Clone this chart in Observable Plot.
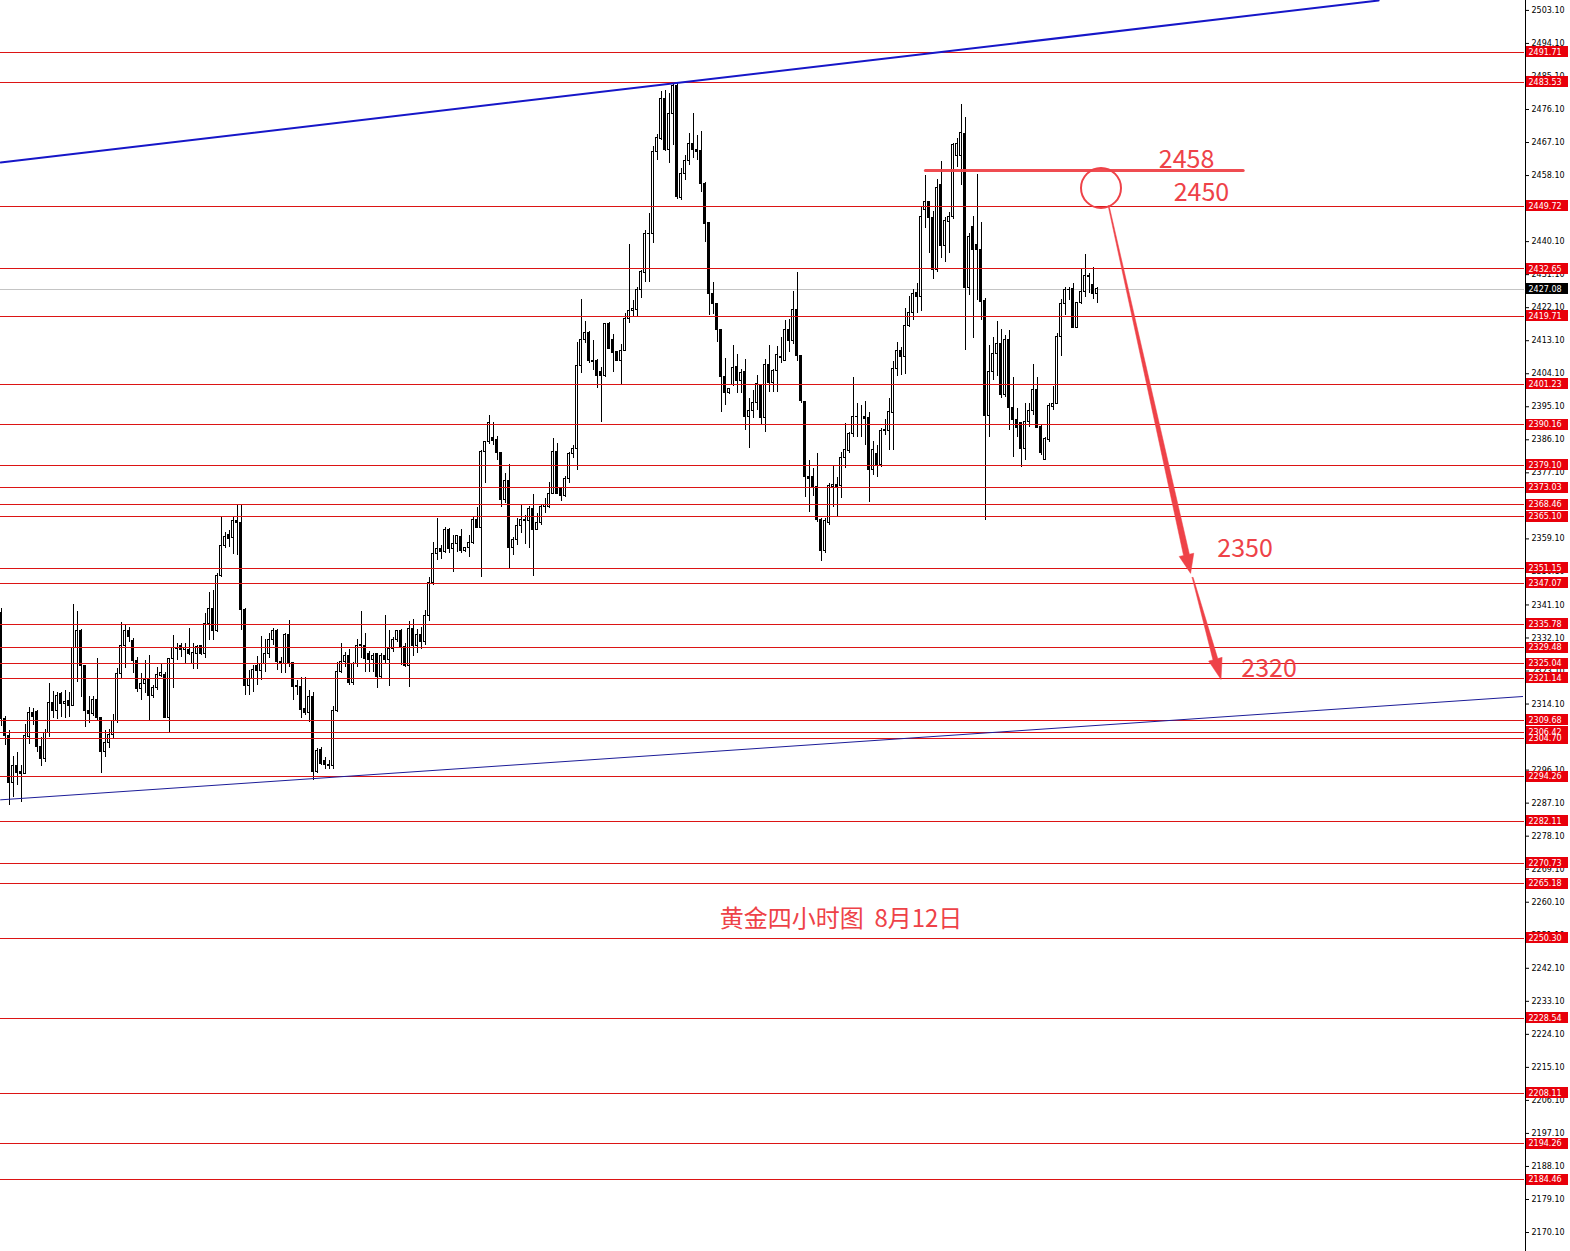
<!DOCTYPE html>
<html>
<head>
<meta charset="utf-8">
<script src="https://cdn.jsdelivr.net/npm/d3@7"></script>
<script src="https://cdn.jsdelivr.net/npm/@observablehq/plot@0.6"></script>
<style>
  html, body { margin: 0; padding: 0; background: #ffffff; }
  #chart svg { display: block; }
</style>
</head>
<body>
<div id="chart"></div>
<script>
// ---------- data (gold, 4-hour candles) ----------
const opens = [2339.0,2310.0,2305.5,2292.5,2297.3,2295.5,2295.0,2305.0,2311.7,2312.0,2302.3,2299.2,2306.2,2314.4,2312.3,2316.9,2314.0,2314.8,2313.7,2329.4,
2334.1,2324.6,2312.3,2311.3,2315.1,2310.3,2301.0,2303.5,2305.7,2309.6,2322.3,2330.0,2333.9,2331.4,2325.8,2318.1,2319.6,2320.7,2316.2,2318.5,
2321.8,2321.9,2310.3,2326.4,2329.4,2330.0,2328.9,2328.8,2325.0,2327.8,2329.8,2327.8,2335.9,2340.0,2334.1,2349.1,2357.1,2360.2,2359.4,2364.1,
2363.5,2339.8,2319.1,2321.0,2324.6,2323.2,2325.0,2327.6,2331.6,2334.1,2325.5,2325.0,2332.8,2325.2,2319.1,2318.7,2312.8,2311.6,2316.1,2295.5,
2301.6,2298.5,2297.6,2297.1,2312.3,2322.8,2325.5,2327.3,2319.8,2325.0,2330.0,2330.0,2327.8,2326.1,2327.6,2321.4,2327.3,2326.1,2329.1,2331.6,
2334.1,2329.6,2324.6,2334.6,2330.0,2333.0,2331.0,2338.0,2347.2,2355.0,2356.4,2355.5,2361.6,2356.4,2357.6,2359.6,2355.9,2356.5,2357.9,2364.3,
2362.1,2382.7,2385.5,2386.6,2386.1,2382.4,2369.6,2374.8,2356.7,2358.8,2362.7,2364.3,2364.1,2367.3,2361.6,2363.4,2367.7,2367.7,2371.4,2382.7,
2372.7,2370.9,2375.5,2382.1,2383.6,2406.3,2413.3,2415.2,2407.5,2407.7,2404.5,2403.4,2417.7,2413.2,2410.0,2407.5,2410.4,2419.1,2421.1,2421.6,
2427.0,2431.6,2442.2,2442.2,2464.5,2468.1,2479.0,2465.1,2474.9,2482.6,2452.0,2458.4,2462.2,2466.7,2465.1,2464.7,2455.8,2445.1,2425.9,2423.0,
2415.9,2403.3,2398.8,2400.9,2405.9,2402.1,2404.5,2392.3,2393.9,2396.1,2400.9,2392.1,2406.6,2401.5,2404.8,2408.4,2407.5,2415.9,2413.0,2421.5,
2408.8,2396.4,2376.1,2375.9,2373.2,2364.3,2355.7,2363.4,2373.2,2373.9,2373.4,2381.2,2383.0,2387.7,2392.4,2392.3,2392.4,2392.1,2377.9,2382.3,
2379.1,2388.7,2388.6,2393.4,2405.4,2410.2,2408.6,2417.2,2420.6,2426.0,2425.1,2448.8,2450.8,2446.6,2432.4,2455.4,2439.0,2445.4,2446.8,2463.3,
2463.3,2469.5,2427.5,2444.0,2439.3,2437.7,2423.8,2392.7,2404.5,2409.5,2412.1,2398.2,2413.2,2394.8,2391.5,2390.6,2383.6,2390.9,2393.9,2399.7,
2389.5,2380.6,2386.1,2395.0,2395.9,2414.1,2423.1,2426.8,2427.2,2416.6,2423.3,2426.3,2430.6,2428.4,2425.7];
const highs = [2340.0,2310.8,2306.9,2299.9,2301.0,2297.3,2308.5,2313.2,2312.8,2312.3,2305.1,2307.1,2319.8,2317.5,2317.3,2317.3,2317.8,2317.3,2341.1,2339.4,
2334.3,2324.6,2316.1,2316.1,2326.4,2310.5,2306.9,2307.1,2311.2,2323.7,2336.4,2335.5,2335.0,2332.0,2326.9,2322.3,2326.0,2327.3,2319.2,2324.1,
2325.0,2322.8,2326.4,2332.8,2330.5,2330.5,2330.5,2334.6,2330.5,2330.0,2330.0,2338.7,2344.6,2345.0,2349.6,2365.2,2360.9,2361.4,2365.2,2368.2,
2368.5,2340.0,2323.2,2324.6,2327.0,2332.5,2331.6,2333.2,2334.6,2334.3,2326.9,2333.2,2336.9,2325.5,2320.5,2321.4,2321.4,2317.8,2317.3,2301.9,
2302.3,2299.6,2298.7,2313.4,2325.5,2330.5,2328.2,2328.9,2325.5,2331.6,2339.4,2333.4,2328.5,2328.0,2327.8,2327.8,2338.2,2334.1,2332.1,2334.1,
2334.3,2330.5,2336.7,2337.0,2334.5,2335.0,2339.5,2348.5,2358.2,2364.6,2357.3,2362.1,2361.9,2360.0,2360.0,2361.6,2356.8,2360.0,2364.8,2367.6,
2383.2,2385.7,2392.7,2390.9,2387.0,2382.7,2377.0,2379.4,2359.5,2364.6,2368.2,2365.5,2367.9,2371.2,2366.1,2368.6,2370.0,2374.5,2386.4,2385.0,
2373.2,2376.1,2382.7,2384.5,2412.7,2424.2,2418.2,2415.5,2413.2,2408.1,2405.9,2417.9,2418.0,2414.8,2410.0,2412.2,2420.4,2439.3,2424.0,2427.7,
2432.2,2443.1,2447.7,2466.0,2469.3,2481.1,2481.3,2480.4,2483.5,2483.3,2459.9,2463.6,2469.6,2474.9,2469.0,2470.2,2456.3,2445.4,2429.0,2423.1,
2416.1,2408.2,2400.2,2411.8,2409.3,2405.2,2407.9,2397.3,2399.5,2403.6,2401.2,2407.9,2411.8,2405.2,2411.5,2414.1,2418.6,2418.8,2426.6,2431.8,
2409.1,2396.6,2380.5,2378.4,2382.3,2364.6,2364.6,2374.1,2379.1,2375.9,2382.7,2390.6,2388.2,2403.0,2395.9,2395.4,2396.6,2393.6,2385.7,2384.5,
2389.3,2391.5,2397.3,2407.3,2412.7,2411.3,2421.8,2425.1,2427.0,2428.6,2449.7,2458.1,2451.1,2448.4,2456.9,2462.0,2446.8,2448.1,2466.9,2468.1,
2477.5,2474.0,2442.2,2446.9,2458.4,2445.4,2424.5,2411.8,2414.1,2418.2,2416.1,2414.6,2416.0,2403.2,2394.5,2390.9,2395.9,2395.9,2406.6,2403.2,
2390.0,2386.8,2395.9,2400.6,2415.2,2424.2,2427.5,2427.5,2428.6,2423.6,2432.7,2436.6,2431.3,2433.0,2427.5];
const lows = [2308.0,2302.8,2286.5,2288.7,2291.9,2287.4,2295.0,2303.2,2308.3,2301.0,2297.1,2298.3,2305.1,2310.1,2309.8,2310.5,2310.1,2310.5,2313.4,2320.1,
2316.0,2307.8,2308.7,2310.7,2309.6,2295.2,2299.6,2301.9,2304.6,2308.7,2320.7,2323.7,2331.0,2322.3,2317.3,2315.1,2316.9,2309.6,2315.5,2317.9,
2321.4,2310.1,2306.4,2318.2,2326.0,2326.9,2325.0,2327.3,2323.4,2323.4,2327.3,2326.6,2331.4,2331.4,2333.7,2348.7,2356.4,2356.8,2354.8,2354.6,
2334.1,2316.4,2316.4,2317.3,2319.1,2320.5,2322.8,2326.4,2330.1,2323.2,2322.3,2322.3,2324.1,2315.2,2316.4,2310.1,2311.0,2309.2,2293.3,2295.1,
2297.4,2296.4,2296.4,2296.2,2311.9,2322.3,2324.1,2319.1,2319.1,2324.1,2326.4,2322.8,2322.8,2322.8,2318.2,2320.9,2325.0,2318.9,2328.2,2331.0,
2324.6,2324.0,2318.7,2327.0,2328.0,2329.0,2330.0,2336.5,2346.5,2353.2,2353.4,2355.0,2355.0,2350.0,2355.5,2355.0,2355.5,2353.9,2357.7,2361.8,
2348.7,2374.1,2384.8,2384.5,2380.5,2367.7,2368.8,2350.7,2354.6,2357.3,2360.5,2357.7,2356.4,2348.9,2361.4,2362.8,2366.0,2367.3,2371.2,2371.2,
2369.4,2370.4,2374.1,2381.0,2377.7,2404.1,2412.4,2407.0,2405.0,2400.0,2390.9,2403.2,2410.7,2404.5,2407.3,2401.2,2410.2,2417.7,2419.3,2419.3,
2424.5,2429.0,2429.0,2439.7,2462.2,2467.7,2464.7,2461.3,2466.3,2451.5,2451.3,2456.8,2460.8,2462.7,2462.2,2453.6,2439.9,2420.0,2420.2,2412.7,
2393.6,2395.4,2398.4,2400.6,2398.6,2398.6,2388.6,2383.6,2391.8,2394.1,2390.0,2388.2,2399.1,2399.1,2399.1,2407.0,2407.3,2410.0,2412.2,2407.5,
2396.1,2370.5,2366.4,2370.6,2363.7,2353.0,2355.2,2362.7,2367.7,2365.0,2370.0,2378.2,2382.3,2386.8,2386.8,2386.8,2384.5,2369.1,2376.4,2375.9,
2378.6,2387.3,2383.2,2383.2,2403.3,2403.6,2403.9,2416.6,2418.6,2420.6,2421.1,2443.8,2436.9,2429.9,2431.8,2435.4,2434.5,2436.8,2446.0,2460.2,
2455.4,2410.3,2425.4,2413.6,2424.0,2418.6,2364.1,2386.8,2402.3,2403.4,2397.3,2397.5,2388.6,2381.4,2386.8,2378.6,2380.5,2389.5,2392.7,2389.1,
2381.8,2380.4,2385.5,2394.1,2395.7,2408.8,2420.0,2424.0,2416.3,2416.3,2423.0,2425.0,2425.9,2424.2,2423.3];
const closes = [2310.0,2305.5,2292.5,2297.3,2295.3,2295.0,2305.3,2311.7,2310.5,2302.3,2299.2,2306.2,2314.4,2312.3,2316.4,2314.0,2314.6,2313.7,2329.4,2334.1,
2324.6,2312.3,2311.3,2315.1,2310.3,2301.0,2303.5,2305.7,2309.6,2322.3,2330.0,2333.9,2332.3,2325.8,2318.1,2319.6,2320.7,2316.2,2318.5,2322.1,
2322.5,2310.3,2326.4,2329.4,2329.2,2328.9,2329.4,2327.8,2327.9,2329.6,2327.8,2335.9,2340.0,2334.1,2349.1,2357.1,2359.7,2359.1,2364.1,2363.5,
2339.8,2319.1,2321.0,2323.4,2323.2,2325.0,2327.6,2331.6,2334.1,2325.5,2325.0,2332.8,2325.0,2318.7,2318.7,2312.5,2311.6,2316.1,2295.5,2301.4,
2297.8,2297.4,2297.1,2312.3,2322.8,2325.5,2327.1,2319.8,2325.0,2329.8,2330.1,2326.4,2326.1,2327.3,2321.4,2327.3,2326.1,2329.1,2331.6,2334.0,
2329.6,2324.6,2334.6,2330.0,2333.0,2331.0,2338.0,2347.2,2355.0,2356.4,2355.5,2361.6,2356.4,2357.6,2359.8,2355.9,2356.5,2357.9,2364.3,2362.1,
2382.7,2385.5,2390.6,2385.9,2382.4,2369.6,2374.8,2356.7,2358.8,2362.7,2364.3,2364.1,2367.3,2361.6,2363.4,2367.7,2368.4,2371.4,2382.7,2371.2,
2370.9,2375.5,2382.3,2383.6,2406.3,2413.3,2415.2,2407.5,2407.2,2403.4,2403.4,2417.7,2410.9,2409.7,2407.5,2410.4,2419.1,2421.1,2421.8,2427.0,
2431.8,2442.2,2442.3,2464.5,2468.4,2479.0,2465.1,2474.9,2482.6,2452.2,2458.4,2462.2,2466.7,2465.1,2464.5,2455.8,2444.8,2425.9,2423.0,2415.9,
2403.3,2398.8,2400.0,2405.7,2402.1,2404.3,2392.3,2393.9,2396.1,2401.2,2392.1,2406.6,2401.5,2404.8,2409.3,2408.6,2415.9,2413.0,2421.5,2408.8,
2396.6,2375.9,2375.5,2373.2,2364.3,2355.7,2364.1,2373.4,2373.9,2373.2,2381.2,2383.2,2387.7,2392.4,2392.2,2392.3,2391.8,2377.9,2383.2,2379.1,
2388.6,2388.4,2393.6,2405.4,2410.2,2408.6,2417.2,2420.6,2425.9,2425.1,2446.9,2450.8,2446.6,2432.4,2454.8,2439.0,2445.8,2446.9,2466.3,2466.6,
2469.6,2427.5,2441.3,2437.7,2437.7,2423.6,2392.7,2404.5,2409.5,2412.1,2398.2,2413.2,2394.8,2391.5,2389.4,2383.6,2390.9,2393.9,2399.7,2389.4,
2382.5,2386.4,2395.2,2395.9,2414.1,2423.1,2426.8,2427.0,2416.6,2423.3,2426.3,2430.6,2430.5,2425.7,2427.08];

// horizontal support / resistance levels
const levels = [2491.71,2483.53,2449.72,2432.65,2419.71,2401.23,2390.16,2379.10,2373.03,2368.46,2365.10,2351.15,2347.07,
2335.78,2329.48,2325.04,2321.14,2309.68,2306.42,2304.70,2294.26,2282.11,2270.73,2265.18,2250.30,2228.54,2208.11,2194.26,2184.46];
const currentPrice = 2427.08;

// price-axis tick labels
const tickLabels = ["2503.10","2494.10","2485.10","2476.10","2467.10","2458.10","2449.10","2440.10","2431.10","2422.10",
"2413.10","2404.10","2395.10","2386.10","2377.10","2368.10","2359.10","2350.10","2341.10","2332.10","2323.10","2314.10",
"2305.10","2296.10","2287.10","2278.10","2269.10","2260.10","2251.10","2242.10","2233.10","2224.10","2215.10","2206.10",
"2197.10","2188.10","2179.10","2170.10"];

// trend lines (candle index, price)
const upperTrend = [{x: -0.1, y: 2461.66}, {x: 344.4, y: 2505.8}];
const lowerTrend = [{x: -0.1, y: 2288.0}, {x: 380.4, y: 2316.15}];

// annotations
const targetLine = [{x: 231.1, y: 2459.48}, {x: 310.55, y: 2459.48}];
const circleMark = [{x: 275.0, y: 2454.71}];
const arrows = [
  {x1: 276.9, y1: 2449.9, x2: 297.4, y2: 2349.7},
  {x1: 297.9, y1: 2348.6, x2: 305.0, y2: 2320.8}
];
const numberLabels = [
  {x: 296.4, y: 2462.47, text: "2458"},
  {x: 300.1, y: 2453.34, text: "2450"},
  {x: 311.0, y: 2356.21, text: "2350"},
  {x: 317.0, y: 2323.65, text: "2320"}
];
const titleLabel = [{x: 210.0, y: 2255.5, text: "黄金四小时图  8月12日"}];

// ---------- layout / style ----------
const W = 1570, H = 1251, plotRight = 1524;
const xDomain = [-0.125, 380.875];
const yDomain = [2164.93, 2505.80];
const levelRed = "#dc1414";
const tagRed = "#e8000b";
const annRed = "#ee4248";
const axisFont = "DejaVu Sans, Verdana, sans-serif";
const cjkFont = "Noto Sans CJK SC, Noto Sans, sans-serif";
const crisp = "crispEdges";

const xs = d3.scaleLinear(xDomain, [0, plotRight]);
const ys = d3.scaleLinear(yDomain, [H, 0]);

const candles = opens.map((o, i) => ({i, o, h: highs[i], l: lows[i], c: closes[i]}));
const up = candles.filter(d => d.c >= d.o);
const down = candles.filter(d => d.c < d.o);

// tapered arrow polygons (sizes in pixels, converted back to data through the scales)
const arrowStyle = [{w0: 1, w1: 6, head: 19, hw: 15}, {w0: 1, w1: 5, head: 21, hw: 14}];
const arrowPts = [];
arrows.forEach((a, k) => {
  const s = arrowStyle[k];
  const p0 = [xs(a.x1), ys(a.y1)], p1 = [xs(a.x2), ys(a.y2)];
  const dx = p1[0] - p0[0], dy = p1[1] - p0[1];
  const L = Math.hypot(dx, dy), ux = dx / L, uy = dy / L, nx = -uy, ny = ux;
  const b = [p1[0] - ux * s.head, p1[1] - uy * s.head];
  const poly = [
    [p0[0] + nx * s.w0 / 2, p0[1] + ny * s.w0 / 2],
    [b[0] + nx * s.w1 / 2, b[1] + ny * s.w1 / 2],
    [b[0] + nx * s.hw / 2, b[1] + ny * s.hw / 2],
    p1,
    [b[0] - nx * s.hw / 2, b[1] - ny * s.hw / 2],
    [b[0] - nx * s.w1 / 2, b[1] - ny * s.w1 / 2],
    [p0[0] - nx * s.w0 / 2, p0[1] - ny * s.w0 / 2],
    [p0[0] + nx * s.w0 / 2, p0[1] + ny * s.w0 / 2]
  ];
  poly.forEach(p => arrowPts.push({id: k, x: xs.invert(p[0]), y: ys.invert(p[1])}));
});

// price tags to the right of the axis
const tagX1 = xs.invert(plotRight + 2), tagX2 = xs.invert(plotRight + 44);
const tagTextX = xs.invert(plotRight + 4);
const tagHalf = ys.invert(0) - ys.invert(5.5);

const chart = Plot.plot({
  width: W,
  height: H,
  marginTop: 0, marginBottom: 0, marginLeft: 0, marginRight: W - plotRight,
  style: {background: "#ffffff", fontFamily: axisFont, overflow: "visible"},
  x: {domain: xDomain, axis: null},
  y: {domain: yDomain, axis: null},
  marks: [
    // current price line
    Plot.ruleY([currentPrice], {stroke: "#c4c4c4", strokeWidth: 1, shapeRendering: crisp}),
    // candles
    Plot.ruleX(candles, {x: "i", y1: "l", y2: "h", stroke: "#000", strokeWidth: 1, shapeRendering: crisp}),
    Plot.rect(up, {x1: d => d.i - 0.25, x2: d => d.i + 0.25, y1: "o", y2: "c", fill: "#fff", stroke: "#000", strokeWidth: 1, shapeRendering: crisp}),
    Plot.rect(down, {x1: d => d.i - 0.25, x2: d => d.i + 0.25, y1: "o", y2: "c", fill: "#000", stroke: "#000", strokeWidth: 1, shapeRendering: crisp}),
    // horizontal levels
    Plot.ruleY(levels, {stroke: levelRed, strokeWidth: 1, shapeRendering: crisp}),
    // trend lines
    Plot.line(upperTrend, {x: "x", y: "y", stroke: "#1616c8", strokeWidth: 2}),
    Plot.line(lowerTrend, {x: "x", y: "y", stroke: "#1c1c98", strokeWidth: 1}),
    // annotations
    Plot.line(targetLine, {x: "x", y: "y", stroke: annRed, strokeWidth: 3, strokeOpacity: 0.95}),
    Plot.dot(circleMark, {x: "x", y: "y", r: 20, stroke: annRed, strokeWidth: 2, fill: "none"}),
    Plot.line(arrowPts, {x: "x", y: "y", z: "id", fill: annRed, stroke: annRed, strokeWidth: 0.5, curve: "linear"}),
    Plot.text(numberLabels, {x: "x", y: "y", text: "text", fill: annRed, fontSize: 25, fontFamily: cjkFont, textAnchor: "middle"}),
    Plot.text(titleLabel, {x: "x", y: "y", text: "text", fill: annRed, fontSize: 24, fontFamily: cjkFont, textAnchor: "middle"}),
    // price axis
    Plot.axisY({anchor: "right", ticks: tickLabels.map(Number), tickFormat: d => d.toFixed(2),
      tickSize: 4, tickPadding: 3, fontSize: 8, fontFamily: axisFont, label: null, stroke: "#000", color: "#000"}),
    Plot.ruleX([xDomain[1]], {stroke: "#000", strokeWidth: 1, dx: 0.5, shapeRendering: crisp}),
    // price tags
    Plot.rect(levels, {x1: tagX1, x2: tagX2, y1: d => d - tagHalf, y2: d => d + tagHalf, fill: tagRed, shapeRendering: crisp}),
    Plot.text(levels, {x: tagTextX, y: d => d, text: d => d.toFixed(2), fill: "#fff", fontSize: 8, fontFamily: axisFont, textAnchor: "start"}),
    Plot.rect([currentPrice], {x1: tagX1, x2: tagX2, y1: d => d - tagHalf, y2: d => d + tagHalf, fill: "#000", shapeRendering: crisp}),
    Plot.text([currentPrice], {x: tagTextX, y: d => d, text: d => d.toFixed(2), fill: "#fff", fontSize: 8, fontFamily: axisFont, textAnchor: "start"})
  ]
});
document.getElementById("chart").appendChild(chart);
</script>
</body>
</html>
